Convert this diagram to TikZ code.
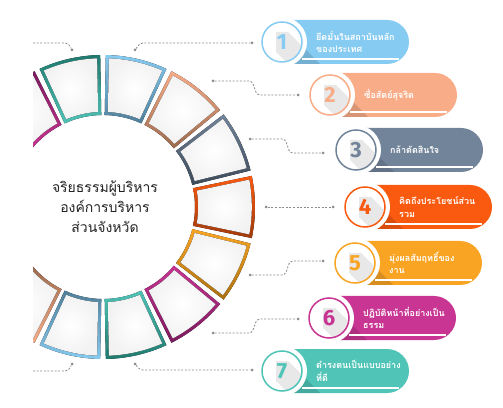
\documentclass[tikz,border=0pt]{standalone}
\usepackage{fontspec}
\setmainfont{Fira Sans}
\newfontfamily\thaifont[Script=Thai]{Loma}
\usetikzlibrary{positioning}

\definecolor{cOne}{HTML}{86CBF1}
\definecolor{cOneD}{HTML}{4F7F9A}
\definecolor{cTwo}{HTML}{F8AC87}
\definecolor{cTwoD}{HTML}{9C6A4E}
\definecolor{cThree}{HTML}{72849A}
\definecolor{cThreeD}{HTML}{3D4B5B}
\definecolor{cFour}{HTML}{FA5A0F}
\definecolor{cFourD}{HTML}{A13A0C}
\definecolor{cFive}{HTML}{F9A423}
\definecolor{cFiveD}{HTML}{A9700F}
\definecolor{cSix}{HTML}{C83593}
\definecolor{cSixD}{HTML}{7A1A5C}
\definecolor{cSeven}{HTML}{4FC4B7}
\definecolor{cSevenD}{HTML}{1F7A6E}
\definecolor{titlegray}{HTML}{222222}
\definecolor{linkgray}{HTML}{8A8A8A}

\tikzset{
  pillbox/.style={rounded corners=22pt, minimum width=150pt, minimum height=44pt, inner sep=0pt},
  numdisc/.style={circle, fill=white, minimum size=50pt, inner sep=0pt},
  numtext/.style={font=\fontsize{22}{22}\selectfont\bfseries},
  pilltext/.style={text=white, align=left, anchor=west, inner sep=0pt, font=\thaifont\bfseries\fontsize{9}{12.5}\selectfont},
  link/.style={linkgray, line width=0.8pt, dash pattern=on 2pt off 1.6pt, rounded corners=3pt},
  linkdot/.style={circle, fill=linkgray, inner sep=0pt, minimum size=3pt}
}

% one step of the list: number, colour, centre x, centre y, text
\newcommand{\steppill}[5]{
  \node[pillbox, fill=#2] (p#1) at (#3+52, #4) {};
  \begin{scope}
    \clip[rounded corners=22pt] (#3-23, #4-22) rectangle (#3+127, #4+22);
    \fill[black, opacity=0.13] (#3-6, #4+10) -- (#3+6, #4+10) -- (#3+86, #4-70) -- (#3+86, #4-90) -- (#3+74, #4-90) -- (#3-6, #4-10) -- cycle;
  \end{scope}
  \draw[white, line width=1.2pt] (#3+20, #4-17) -- (#3+117, #4-17);
  \node[numdisc] (n#1) at (#3, #4) {};
  \begin{scope}
    \clip (n#1.center) circle (19.5pt);
    \fill[black, opacity=0.09] (#3-6, #4+10) -- (#3+6, #4+10) -- (#3+86, #4-70) -- (#3+86, #4-90) -- (#3+74, #4-90) -- (#3-6, #4-10) -- cycle;
  \end{scope}
  \draw[#2, line width=1.5pt] (n#1.center) circle (20pt);
  \node[numtext, text=#2] (k#1) at (n#1.center) {#1};
  \node[pilltext] (t#1) at (#3+34, #4) {#5};
}

\begin{document}
\begin{tikzpicture}[x=1pt, y=1pt]
\useasboundingbox (0,0) rectangle (503,407);

% ring of segments
\begin{scope}
  \clip (33,0) rectangle (503,407);
  \begin{scope}[shift={(103,200)}]
    \foreach \k/\c in {0/cOne,1/cTwo,2/cThree,3/cFour,4/cFive,5/cSix,6/cSeven,
                       7/cOne,8/cTwo,9/cThree,10/cFour,11/cFive,12/cSix,13/cSeven}{
      \pgfmathsetmacro\a{77.143-\k*25.714}
      \pgfmathsetmacro\sa{\k<7 ? 0 : 180}
      \fill[top color=\c, bottom color=\c D, shading angle=\sa]
        (\a-11.8:152) arc[start angle=\a-11.8, end angle=\a+11.8, radius=152]
        -- (\a+11.8:92) arc[start angle=\a+11.8, end angle=\a-11.8, radius=92] -- cycle;
      \fill[inner color=white, outer color=gray!10]
        (\a-10.6:148.8) arc[start angle=\a-10.6, end angle=\a+10.6, radius=148.8]
        -- (\a+9.9:95.2) arc[start angle=\a+9.9, end angle=\a-9.9, radius=95.2] -- cycle;
    }
  \end{scope}
\end{scope}

% title in the middle
\node[align=center, text=titlegray, font=\thaifont\fontsize{14}{20}\selectfont] (title) at (105,200)
  {จริยธรรมผู้บริหาร\\องค์การบริหาร\\ส่วนจังหวัด};

% the seven steps
\steppill{1}{cOne}{282}{365}{ยึดมั่นในสถาบันหลัก\\ของประเทศ}
\steppill{2}{cTwo}{330}{312}{ซื่อสัตย์สุจริต}
\steppill{3}{cThree}{356}{257}{กล้าตัดสินใจ}
\steppill{4}{cFour}{365}{200}{คิดถึงประโยชน์ส่วน\\รวม}
\steppill{5}{cFive}{355}{144}{มุ่งผลสัมฤทธิ์ของ\\งาน}
\steppill{6}{cSix}{329}{89}{ปฏิบัติหน้าที่อย่างเป็น\\ธรรม}
\steppill{7}{cSeven}{282}{36}{ดำรงตนเป็นแบบอย่าง\\ที่ดี}

% dotted links
\node[linkdot] (a1) at (135,357) {};
\node[linkdot] (b1) at (252,364) {};
\node[linkdot] (a2) at (213,326) {};
\node[linkdot] (b2) at (298,312) {};
\node[linkdot] (a3) at (250,268) {};
\node[linkdot] (b3) at (323,254) {};
\node[linkdot] (a4) at (266,200) {};
\node[linkdot] (b4) at (333,200) {};
\node[linkdot] (a5) at (250,132) {};
\node[linkdot] (b5) at (323,146) {};
\node[linkdot] (a6) at (213,74) {};
\node[linkdot] (b6) at (298,88) {};
\node[linkdot] (a7) at (135,43) {};
\node[linkdot] (b7) at (252,37) {};
\node[linkdot] (a8) at (72,357) {};
\node[linkdot] (a9) at (72,43) {};
\coordinate (e8) at (33,364);
\coordinate (e9) at (33,36);

\draw[link] (a1) -- (140,364) -- (b1);
\draw[link] (a2) -- (252,326) -- (257,312) -- (b2);
\draw[link] (a3) -- (285,268) -- (290,254) -- (b3);
\draw[link] (a4) -- (b4);
\draw[link] (a5) -- (285,132) -- (290,146) -- (b5);
\draw[link] (a6) -- (252,74) -- (257,88) -- (b6);
\draw[link] (a7) -- (140,37) -- (b7);
\draw[link] (e8) -- (68,364) -- (a8);
\draw[link] (e9) -- (68,36) -- (a9);
\end{tikzpicture}
\end{document}
